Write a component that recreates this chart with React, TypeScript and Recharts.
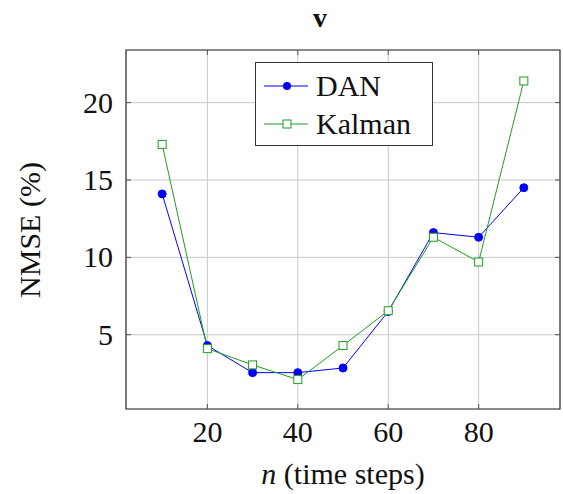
import React from 'react';
import {
  LineChart,
  Line,
  XAxis,
  YAxis,
  CartesianGrid,
  Legend,
  ReferenceArea,
} from 'recharts';

const steps = [10, 20, 30, 40, 50, 60, 70, 80, 90];
const danValues = [14.1, 4.3, 2.55, 2.55, 2.85, 6.5, 11.6, 11.3, 14.5];
const kalmanValues = [17.3, 4.1, 3.05, 2.1, 4.3, 6.55, 11.3, 9.7, 21.4];
const xTicks = [20, 40, 60, 80];
const yTicks = [5, 10, 15, 20];

const FONT = '"Liberation Serif", "DejaVu Serif", serif';
const BLUE = '#0000ff';
const GREEN = '#1f9e1f';

const xDomain: [number, number] = [2, 98];
const yDomain: [number, number] = [0.2, 23.4];

// plot box edges (px) used for the inward tick marks
const PLOT = { left: 126, right: 560, top: 50, bottom: 409 };

const data = steps.map((n, i) => ({
  n,
  DAN: danValues[i],
  Kalman: kalmanValues[i],
}));

const SquareDot = (props: any) => {
  const { cx, cy } = props;
  if (cx == null || cy == null) return null;
  return (
    <rect
      x={cx - 4}
      y={cy - 4}
      width={8}
      height={8}
      fill="#fff"
      stroke={GREEN}
      strokeWidth={1}
    />
  );
};

const XTick = (props: any) => {
  const { x, payload } = props;
  return (
    <g>
      <line x1={x} x2={x} y1={PLOT.bottom} y2={PLOT.bottom - 5} stroke="#555" />
      <line x1={x} x2={x} y1={PLOT.top} y2={PLOT.top + 5} stroke="#555" />
      <text
        x={x}
        y={442}
        textAnchor="middle"
        fontFamily={FONT}
        fontSize={30}
        fill="#111"
      >
        {payload.value}
      </text>
    </g>
  );
};

const YTick = (props: any) => {
  const { y, payload } = props;
  return (
    <g>
      <line x1={PLOT.left} x2={PLOT.left + 5} y1={y} y2={y} stroke="#555" />
      <line x1={PLOT.right - 5} x2={PLOT.right} y1={y} y2={y} stroke="#555" />
      <text
        x={113}
        y={y + 10}
        textAnchor="end"
        fontFamily={FONT}
        fontSize={30}
        fill="#111"
      >
        {payload.value}
      </text>
    </g>
  );
};

const renderLegend = () => (
  <div
    style={{
      border: '1px solid #333',
      background: '#fff',
      width: 178,
      height: 84,
      boxSizing: 'border-box',
    }}
  >
    <svg width={176} height={82}>
      <line x1={8} x2={52} y1={23} y2={23} stroke={BLUE} strokeWidth={1} />
      <circle cx={31} cy={23} r={4} fill={BLUE} />
      <text x={60} y={33} fontFamily={FONT} fontSize={30} fill="#111">
        DAN
      </text>
      <line x1={8} x2={52} y1={61} y2={61} stroke={GREEN} strokeWidth={1} />
      <rect x={27} y={57} width={8} height={8} fill="#fff" stroke={GREEN} />
      <text x={60} y={71} fontFamily={FONT} fontSize={30} fill="#111">
        Kalman
      </text>
    </svg>
  </div>
);

export default function App() {
  return (
    <div style={{ position: 'absolute', left: 0, top: 0, background: '#fff' }}>
      <LineChart
        width={563}
        height={494}
        data={data}
        margin={{ top: 50, right: 3, bottom: 0, left: 0 }}
      >
        <text
          x={320}
          y={27}
          textAnchor="middle"
          fontFamily={FONT}
          fontSize={28}
          fontWeight="bold"
          fill="#111"
        >
          v
        </text>
        <CartesianGrid stroke="#c8c8c8" strokeWidth={1} />
        <XAxis
          dataKey="n"
          type="number"
          domain={xDomain}
          ticks={xTicks}
          allowDataOverflow
          height={85}
          tickLine={false}
          axisLine={false}
          tickSize={0}
          tick={<XTick />}
          label={{
            content: () => (
              <text
                x={343}
                y={484}
                textAnchor="middle"
                fontFamily={FONT}
                fontSize={30}
                fill="#111"
              >
                <tspan fontStyle="italic">n</tspan> (time steps)
              </text>
            ),
          }}
        />
        <YAxis
          type="number"
          domain={yDomain}
          ticks={yTicks}
          allowDataOverflow
          width={126}
          tickLine={false}
          axisLine={false}
          tickSize={0}
          tick={<YTick />}
          label={{
            content: () => (
              <text
                x={40}
                y={230}
                textAnchor="middle"
                transform="rotate(-90 40 230)"
                fontFamily={FONT}
                fontSize={30}
                fill="#111"
              >
                NMSE (%)
              </text>
            ),
          }}
        />
        <ReferenceArea
          x1={xDomain[0]}
          x2={xDomain[1]}
          y1={yDomain[0]}
          y2={yDomain[1]}
          fill="none"
          stroke="#333"
          strokeWidth={1.2}
        />
        <Line
          dataKey="DAN"
          stroke={BLUE}
          strokeWidth={1}
          dot={{ r: 4, fill: BLUE, stroke: BLUE, strokeWidth: 1 }}
          isAnimationActive={false}
        />
        <Line
          dataKey="Kalman"
          stroke={GREEN}
          strokeWidth={1}
          dot={<SquareDot />}
          isAnimationActive={false}
        />
        <Legend
          layout="vertical"
          align="center"
          verticalAlign="middle"
          content={renderLegend}
          wrapperStyle={{ position: 'absolute', left: 255, top: 62, width: 178 }}
        />
      </LineChart>
    </div>
  );
}
